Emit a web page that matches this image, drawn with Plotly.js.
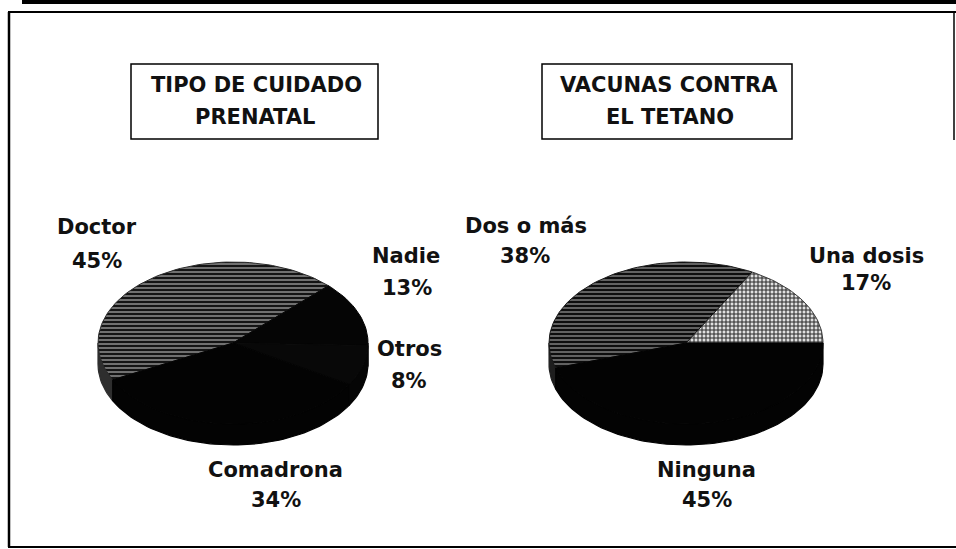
<!DOCTYPE html>
<html>
<head>
<meta charset="utf-8">
<script src="https://cdn.plot.ly/plotly-3.0.1.min.js"></script>
<style>
  html, body { margin: 0; padding: 0; background: #fff; }
  #chart { width: 956px; height: 549px; }
</style>
</head>
<body>
<div id="chart"></div>
<script>
// ---------- data ----------
const chart1Title = ['TIPO DE CUIDADO', 'PRENATAL'];
const chart1Labels = ['Doctor', 'Nadie', 'Otros', 'Comadrona'];
const chart1Values = [45, 13, 8, 34];

const chart2Title = ['VACUNAS CONTRA', 'EL TETANO'];
const chart2Labels = ['Una dosis', 'Dos o más', 'Ninguna'];
const chart2Values = [17, 38, 45];

// ---------- styling / placement ----------
const FONT = 'DejaVu Sans, Liberation Sans, Arial, sans-serif';

const pie1 = {
  cx: 233, cy: 343, rx: 135, ry: 81, depth: 21,
  start: 207, dir: -1,
  fills: [
    {color: '#5a5a5a', edge: '#2a2a2a', side: '#2e2e2e', pattern: {shape: '-', fgcolor: '#141414', bgcolor: '#7a7a7a', size: 4, solidity: 0.55}},
    {color: '#050505', edge: '#050505', side: '#050505'},
    {color: '#080808', edge: '#080808', side: '#050505'},
    {color: '#030303', edge: '#030303', side: '#030303'}
  ],
  labelPos: [[97, 227, 97, 261], [406, 256, 407, 288], [409, 349, 409, 381], [275, 470, 276, 500]]
};
const pie2 = {
  cx: 686, cy: 343, rx: 137, ry: 81, depth: 21,
  start: 0, dir: 1,
  fills: [
    {color: '#a8a8a8', edge: '#3a3a3a', side: '#555', pattern: {shape: '+', fgcolor: '#2a2a2a', bgcolor: '#e0e0e0', size: 4, solidity: 0.45}},
    {color: '#3c3c3c', edge: '#1a1a1a', side: '#1e1e1e', pattern: {shape: '-', fgcolor: '#0d0d0d', bgcolor: '#6a6a6a', size: 4, solidity: 0.55}},
    {color: '#030303', edge: '#030303', side: '#030303'}
  ],
  labelPos: [[866, 256, 866, 283], [526, 226, 525, 256], [706, 470, 707, 500]]
};

function arcPts(p, a0, a1, dy) {
  const n = Math.max(6, Math.ceil(Math.abs(a1 - a0) / 2));
  const xs = [], ys = [];
  for (let k = 0; k <= n; k++) {
    const t = (a0 + (a1 - a0) * k / n) * Math.PI / 180;
    xs.push(p.cx + p.rx * Math.cos(t));
    ys.push(p.cy - p.ry * Math.sin(t) + dy);
  }
  return [xs, ys];
}

function sliceTraces(labels, values, p) {
  const total = values.reduce((a, b) => a + b, 0);
  const tops = [], sides = [];
  let ang = p.start;
  values.forEach((v, i) => {
    const sweep = v / total * 360 * p.dir;
    const a0 = ang, a1 = ang + sweep;
    const f = p.fills[i];
    // side wall (front, lower half)
    let lo = Math.min(a0, a1), hi = Math.max(a0, a1);
    while (lo < 0) { lo += 360; hi += 360; }
    while (lo >= 360) { lo -= 360; hi -= 360; }
    [[180, 360], [540, 720]].forEach(r => {
      const s = Math.max(lo, r[0]), e = Math.min(hi, r[1]);
      if (e > s) {
        const top = arcPts(p, s, e, 0), bot = arcPts(p, e, s, p.depth);
        sides.push({
          type: 'scatter', mode: 'lines',
          x: top[0].concat(bot[0], [top[0][0]]), y: top[1].concat(bot[1], [top[1][0]]),
          fill: 'toself', fillcolor: f.side, line: {width: 1.2, color: f.side},
          hoverinfo: 'skip', showlegend: false, name: labels[i]
        });
      }
    });
    // top face
    const arc = arcPts(p, a0, a1, 0);
    const tr = {
      type: 'scatter', mode: 'lines',
      x: [p.cx].concat(arc[0], [p.cx]), y: [p.cy].concat(arc[1], [p.cy]),
      fill: 'toself', fillcolor: f.color,
      line: {width: 1, color: f.edge},
      hoverinfo: 'text', text: labels[i] + ' ' + v + '%',
      showlegend: false, name: labels[i]
    };
    if (f.pattern) tr.fillpattern = Object.assign({fillmode: 'replace'}, f.pattern);
    tops.push(tr);
    ang = a1;
  });
  return sides.concat(tops);
}

function labelAnns(labels, values, p) {
  const anns = [];
  labels.forEach((l, i) => {
    const pos = p.labelPos[i];
    anns.push({x: pos[0], y: pos[1], xref: 'x', yref: 'y', text: '<b>' + l + '</b>', showarrow: false,
      font: {family: FONT, size: 21, color: '#111'}, xanchor: 'center', yanchor: 'middle'});
    anns.push({x: pos[2], y: pos[3], xref: 'x', yref: 'y', text: '<b>' + values[i] + '%</b>', showarrow: false,
      font: {family: FONT, size: 21, color: '#111'}, xanchor: 'center', yanchor: 'middle'});
  });
  return anns;
}

const traces = sliceTraces(chart1Labels, chart1Values, pie1)
  .concat(sliceTraces(chart2Labels, chart2Values, pie2));

const titleAnns = [
  {x: 256, y: 85, text: '<b>' + chart1Title[0] + '</b>'},
  {x: 255, y: 117, text: '<b>' + chart1Title[1] + '</b>'},
  {x: 669, y: 85, text: '<b>' + chart2Title[0] + '</b>'},
  {x: 670, y: 117, text: '<b>' + chart2Title[1] + '</b>'}
].map(a => Object.assign({xref: 'x', yref: 'y', showarrow: false, xanchor: 'center', yanchor: 'middle',
  font: {family: FONT, size: 21, color: '#111'}}, a));

const shapes = [
  {type: 'rect', xref: 'x', yref: 'y', x0: 22, x1: 960, y0: -2, y1: 4, fillcolor: '#000', line: {width: 0}},
  {type: 'line', xref: 'x', yref: 'y', x0: 8, x1: 960, y0: 12, y1: 12, line: {color: '#000', width: 2}},
  {type: 'line', xref: 'x', yref: 'y', x0: 9, x1: 9, y0: 12, y1: 547, line: {color: '#000', width: 2.5}},
  {type: 'line', xref: 'x', yref: 'y', x0: 8, x1: 960, y0: 547, y1: 547, line: {color: '#000', width: 2}},
  {type: 'line', xref: 'x', yref: 'y', x0: 954, x1: 954, y0: 12, y1: 140, line: {color: '#000', width: 1.5}},
  {type: 'rect', xref: 'x', yref: 'y', x0: 131, x1: 378, y0: 64, y1: 139, line: {color: '#000', width: 1.5}},
  {type: 'rect', xref: 'x', yref: 'y', x0: 542, x1: 792, y0: 64, y1: 139, line: {color: '#000', width: 1.5}}
];

const layout = {
  width: 956, height: 549,
  margin: {l: 0, r: 0, t: 0, b: 0},
  paper_bgcolor: '#fff', plot_bgcolor: '#fff',
  xaxis: {range: [0, 956], visible: false, fixedrange: true},
  yaxis: {range: [549, 0], visible: false, fixedrange: true},
  showlegend: false,
  shapes: shapes,
  annotations: titleAnns
    .concat(labelAnns(chart1Labels, chart1Values, pie1))
    .concat(labelAnns(chart2Labels, chart2Values, pie2))
};

Plotly.newPlot('chart', traces, layout, {displayModeBar: false, staticPlot: true});
</script>
</body>
</html>
